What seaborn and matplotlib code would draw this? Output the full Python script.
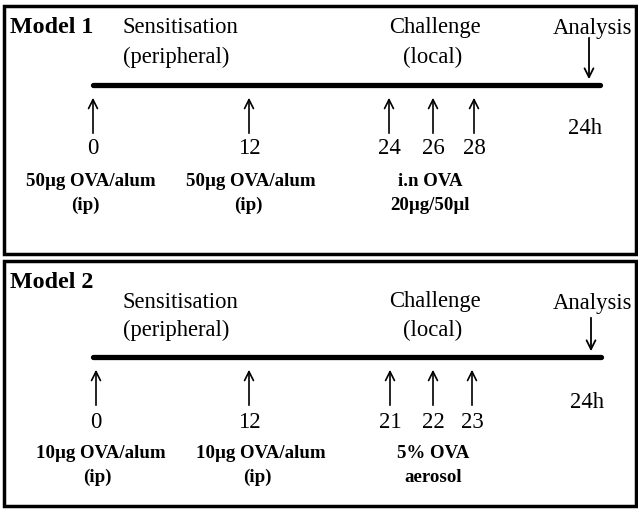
import matplotlib
matplotlib.use("Agg")
import matplotlib.pyplot as plt
from matplotlib.patches import Rectangle
import pandas as pd
import seaborn as sns

# Данные схем (модели)
model_names = ["Model 1", "Model 2"]
phase_titles = [("Sensitisation", "(peripheral)"), ("Challenge", "(local)"), "Analysis"]
days_model1 = ["0", "12", "24", "26", "28"]
days_model2 = ["0", "12", "21", "22", "23"]
treat_model1 = [("50µg OVA/alum", "(ip)"), ("50µg OVA/alum", "(ip)"), ("i.n OVA", "20µg/50µl")]
treat_model2 = [("10µg OVA/alum", "(ip)"), ("10µg OVA/alum", "(ip)"), ("5% OVA", "aerosol")]
analysis_label = "24h"

# Разметка (в пикселях исходной картинки)
panel_top = [6, 261]
panel_bottom = [254, 506]
line_y = [85, 357]
line_x = [(93, 600), (93, 601)]
arrow_x = [[93, 249, 389, 433, 474], [96, 249, 390, 433, 472]]
analysis_x = [589, 591]
analysis_top = [35, 315]
treat_x1 = [[91, 251, 430], [101, 261, 433]]
treat_x2 = [[85, 248, 430], [97, 257, 433]]
title_y = [(27, 57), (302, 330)]
model_y = [27, 283]
num_off = [63, 66]
treat_off = [(97, 120), (96, 120)]
h24_off = [43, 45]

sns.set_theme(style="white")
plt.rcParams['font.family'] = ['Liberation Serif', 'DejaVu Serif']
plt.rcParams['text.color'] = 'black'

fig = plt.figure(figsize=(6.38, 5.09), dpi=100)
ax = fig.add_axes([0, 0, 1, 1])
ax.set_xlim(0, 638)
ax.set_ylim(509, 0)
ax.axis('off')

all_days = [days_model1, days_model2]
all_treat = [treat_model1, treat_model2]
fs = 16.3
fs_treat = 13.6

for i in range(2):
    top, bot = panel_top[i], panel_bottom[i]
    ax.add_patch(Rectangle((4, top), 632, bot - top, fill=False, lw=2.5, ec='black'))

    # временная шкала
    x0, x1 = line_x[i]
    tl = pd.DataFrame({"x": [x0, x1], "y": [line_y[i], line_y[i]]})
    sns.lineplot(data=tl, x="x", y="y", ax=ax, color='black', lw=3.8)

    # заголовки
    ax.text(10, model_y[i], model_names[i], fontsize=17.3,
            fontweight='bold', ha='left', va='center')
    ax.text(123, title_y[i][0], phase_titles[0][0], fontsize=fs, ha='left', va='center')
    ax.text(123, title_y[i][1], phase_titles[0][1], fontsize=fs, ha='left', va='center')
    ax.text(435, title_y[i][0], phase_titles[1][0], fontsize=fs, ha='center', va='center')
    ax.text(433, title_y[i][1], phase_titles[1][1], fontsize=fs, ha='center', va='center')
    ax.text(593, title_y[i][0] + 1, phase_titles[2], fontsize=fs,
            ha='center', va='center')

    # стрелка анализа
    ly = line_y[i]
    ax.annotate('', xy=(analysis_x[i], ly - 3), xytext=(analysis_x[i], analysis_top[i]),
                arrowprops=dict(arrowstyle='->', lw=1.3, color='black', mutation_scale=16))
    ax.text(analysis_x[i] - 4, ly + h24_off[i], analysis_label, fontsize=fs, ha='center', va='center')

    # стрелки введения и дни
    for x, d in zip(arrow_x[i], all_days[i]):
        ax.annotate('', xy=(x, ly + 10), xytext=(x, ly + 51),
                    arrowprops=dict(arrowstyle='->', lw=1.2, color='black', mutation_scale=16))
        ax.text(x, ly + num_off[i], d, fontsize=16.5, ha='center', va='center')

    for xa, xb, (l1, l2) in zip(treat_x1[i], treat_x2[i], all_treat[i]):
        ax.text(xa, ly + treat_off[i][0], l1, fontsize=fs_treat, fontweight='bold', ha='center', va='center')
        ax.text(xb, ly + treat_off[i][1], l2, fontsize=fs_treat, fontweight='bold', ha='center', va='center')

fig.savefig("out.png", dpi=100)
